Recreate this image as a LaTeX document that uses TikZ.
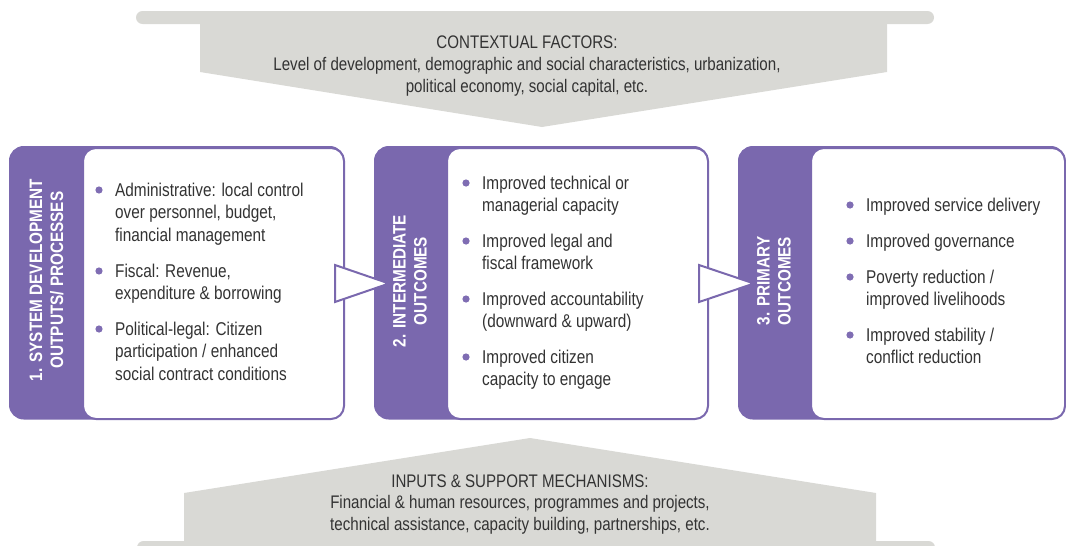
\documentclass[tikz,border=0pt]{standalone}
\usepackage{fontspec}
\setmainfont{Liberation Sans}[FakeStretch=0.83]
\newfontfamily\labfont{Liberation Sans}[FakeStretch=0.85]
\usetikzlibrary{calc}
\definecolor{purp}{HTML}{7A68AE}
\definecolor{greyc}{HTML}{D9D9D5}
\definecolor{txt}{HTML}{333333}
\definecolor{bulc}{HTML}{7F6DB3}
\newcommand{\itemtext}[1]{\begin{tabular}[t]{@{}l@{}}#1\end{tabular}}
\newcommand{\headtext}[1]{\begin{tabular}[t]{@{}c@{}}#1\end{tabular}}
\tikzset{
  outerbox/.style={fill=purp, draw=purp, line width=1.5pt, rounded corners=14pt, anchor=north west, inner sep=0},
  innerbox/.style={fill=white, draw=purp, line width=2pt, rounded corners=13pt, anchor=north west, inner sep=0},
  vlabel/.style={rotate=90, text=white, font=\labfont\bfseries\fontsize{18}{21}\selectfont, align=center, inner sep=0},
  item/.style={anchor=base west, text=txt, font=\fontsize{18.5}{22.5}\selectfont, inner sep=0},
  bul/.style={fill=bulc},
  tri/.style={fill=white, draw=purp, line width=2pt, line join=miter},
  head/.style={text=txt, font=\fontsize{18.2}{22}\selectfont, inner sep=0, anchor=base},
  band/.style={fill=greyc}
}
\begin{document}
\begin{tikzpicture}[x=1pt,y=-1pt]
\useasboundingbox (0,0) rectangle (1066,546);
\clip (0,0) rectangle (1066,546);
% top grey band
\fill[band, rounded corners=6.5pt] (136,11) rectangle (934,24);
\fill[band] (200,20) -- (887,20) -- (887,72) -- (542,127) -- (200,72) -- cycle;
% bottom grey band
\fill[band] (184,546) -- (184,493) -- (530,438) -- (876,493) -- (876,546) -- cycle;
\fill[band, rounded corners=6.5pt] (137,541) rectangle (935,556);
\node[head] (ctx) at (527,48) {\headtext{CONTEXTUAL FACTORS:\\Level of development, demographic and social characteristics, urbanization,\\political economy, social capital, etc.}};
\node[head, font=\fontsize{18.2}{21.3}\selectfont] (inp) at (520,487.5) {\headtext{INPUTS \& SUPPORT MECHANISMS:\\Financial \& human resources, programmes and projects,\\technical assistance, capacity building, partnerships, etc.}};
% boxes
\node[outerbox, minimum width=334pt, minimum height=272pt] (o1) at (9,146) {};
\node[innerbox, minimum width=261pt, minimum height=271pt] (w1) at (82,147) {};
\node[outerbox, minimum width=333pt, minimum height=272pt] (o2) at (374,146) {};
\node[innerbox, minimum width=261pt, minimum height=271pt] (w2) at (446,147) {};
\node[outerbox, minimum width=326pt, minimum height=272pt] (o3) at (738,146) {};
\node[innerbox, minimum width=254pt, minimum height=271pt] (w3) at (810,147) {};
% connectors
\draw[tri] ($(w1.east)+(-10,-18.5)$) -- ($(w1.east)+(-10,18.5)$) -- ($(w1.east)+(44,0)$) -- cycle;
\draw[tri] ($(w2.east)+(-10,-18.5)$) -- ($(w2.east)+(-10,18.5)$) -- ($(w2.east)+(45,0)$) -- cycle;
% vertical labels
\node[vlabel] (l1) at (46.5,280) {1. SYSTEM DEVELOPMENT\\OUTPUTS/ PROCESSES};
\node[vlabel] (l2) at (410,281) {2. INTERMEDIATE\\OUTCOMES};
\node[vlabel] (l3) at (774,281) {3. PRIMARY\\OUTCOMES};
% items
\node[item] (i11) at (115,196) {\itemtext{Administrative: local control\\over personnel, budget,\\financial management}};
\node[item] (i12) at (115,277) {\itemtext{Fiscal: Revenue,\\expenditure \& borrowing}};
\node[item] (i13) at (115,335) {\itemtext{Political-legal: Citizen\\participation / enhanced\\social contract conditions}};
\node[item] (i21) at (482,189) {\itemtext{Improved technical or\\managerial capacity}};
\node[item] (i22) at (482,247) {\itemtext{Improved legal and\\fiscal framework}};
\node[item] (i23) at (482,305) {\itemtext{Improved accountability\\(downward \& upward)}};
\node[item] (i24) at (482,363) {\itemtext{Improved citizen\\capacity to engage}};
\node[item] (i31) at (866,211) {\itemtext{Improved service delivery}};
\node[item] (i32) at (866,247) {\itemtext{Improved governance}};
\node[item] (i33) at (866,283) {\itemtext{Poverty reduction /\\improved livelihoods}};
\node[item] (i34) at (866,341) {\itemtext{Improved stability /\\conflict reduction}};
\foreach \n in {i11,i12,i13,i21,i22,i23,i24,i31,i32,i33,i34}
  \fill[bul] ($(\n.base west)+(-16,-6)$) circle (3.6pt);
\end{tikzpicture}
\end{document}
